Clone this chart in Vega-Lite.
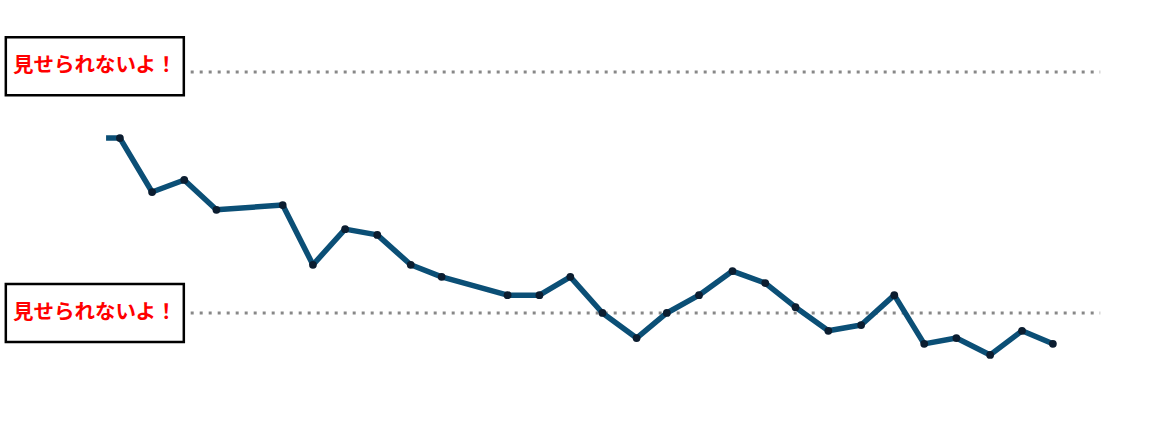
{
  "$schema": "https://vega.github.io/schema/vega-lite/v6.json",
  "width": 1170,
  "height": 445,
  "autosize": {"type": "fit", "contains": "padding"},
  "padding": 0,
  "background": "white",
  "config": {"view": {"stroke": null}},
  "datasets": {
    "series": [
      {"day": -0.43, "value": 86.3, "marked": false},
      {"day": 0, "value": 86.3, "marked": true},
      {"day": 1, "value": 75.1, "marked": true},
      {"day": 2, "value": 77.6, "marked": true},
      {"day": 3, "value": 71.4, "marked": true},
      {"day": 5.06, "value": 72.4, "marked": true},
      {"day": 6, "value": 60.0, "marked": true},
      {"day": 7, "value": 67.4, "marked": true},
      {"day": 8, "value": 66.2, "marked": true},
      {"day": 9.04, "value": 60.0, "marked": true},
      {"day": 10, "value": 57.5, "marked": true},
      {"day": 12.05, "value": 53.7, "marked": true},
      {"day": 13.04, "value": 53.7, "marked": true},
      {"day": 14, "value": 57.5, "marked": true},
      {"day": 15, "value": 50.0, "marked": true},
      {"day": 16.06, "value": 44.8, "marked": true},
      {"day": 17, "value": 50.0, "marked": true},
      {"day": 18, "value": 53.7, "marked": true},
      {"day": 19.04, "value": 58.7, "marked": true},
      {"day": 20.06, "value": 56.2, "marked": true},
      {"day": 21, "value": 51.2, "marked": true},
      {"day": 22.02, "value": 46.3, "marked": true},
      {"day": 23.04, "value": 47.5, "marked": true},
      {"day": 24.07, "value": 53.7, "marked": true},
      {"day": 25, "value": 43.6, "marked": true},
      {"day": 26, "value": 44.8, "marked": true},
      {"day": 27.05, "value": 41.3, "marked": true},
      {"day": 28.04, "value": 46.3, "marked": true},
      {"day": 29, "value": 43.6, "marked": true}
    ],
    "thresholds": [
      {"value": 100, "from": 2.2, "to": 30.47, "labelDay": -0.78, "labelValue": 101.2, "label": "見せられないよ！"},
      {"value": 50, "from": 2.2, "to": 30.47, "labelDay": -0.78, "labelValue": 50.0, "label": "見せられないよ！"}
    ]
  },
  "layer": [
    {
      "data": {"name": "thresholds"},
      "mark": {"type": "rule", "color": "#888888", "strokeWidth": 3, "strokeDash": [3, 6], "strokeCap": "butt"},
      "encoding": {
        "x": {"field": "from", "type": "quantitative", "scale": {"domain": [-3.696, 32.64], "nice": false, "zero": false}, "axis": null},
        "x2": {"field": "to"},
        "y": {"field": "value", "type": "quantitative", "scale": {"domain": [22.61, 114.94], "nice": false, "zero": false}, "axis": null}
      }
    },
    {
      "data": {"name": "thresholds"},
      "mark": {"type": "point", "shape": "M -1 -0.326 L 1 -0.326 L 1 0.326 L -1 0.326 Z", "size": 31684, "filled": true, "fill": "white", "stroke": "black", "strokeWidth": 2.5, "opacity": 1, "fillOpacity": 1},
      "encoding": {
        "x": {"field": "labelDay", "type": "quantitative"},
        "y": {"field": "labelValue", "type": "quantitative"}
      }
    },
    {
      "data": {"name": "thresholds"},
      "mark": {"type": "text", "color": "#ff0000", "font": "Noto Sans CJK JP", "fontWeight": "bold", "fontSize": 20.5, "align": "center", "baseline": "middle"},
      "encoding": {
        "x": {"field": "labelDay", "type": "quantitative"},
        "y": {"field": "labelValue", "type": "quantitative"},
        "text": {"field": "label"}
      }
    },
    {
      "data": {"name": "series"},
      "mark": {"type": "line", "color": "#0b4f76", "strokeWidth": 5.5, "strokeJoin": "round"},
      "encoding": {
        "x": {"field": "day", "type": "quantitative"},
        "y": {"field": "value", "type": "quantitative"}
      }
    },
    {
      "data": {"name": "series"},
      "transform": [{"filter": "datum.marked"}],
      "mark": {"type": "point", "filled": true, "color": "#0b1d30", "size": 60, "opacity": 1},
      "encoding": {
        "x": {"field": "day", "type": "quantitative"},
        "y": {"field": "value", "type": "quantitative"}
      }
    }
  ]
}
